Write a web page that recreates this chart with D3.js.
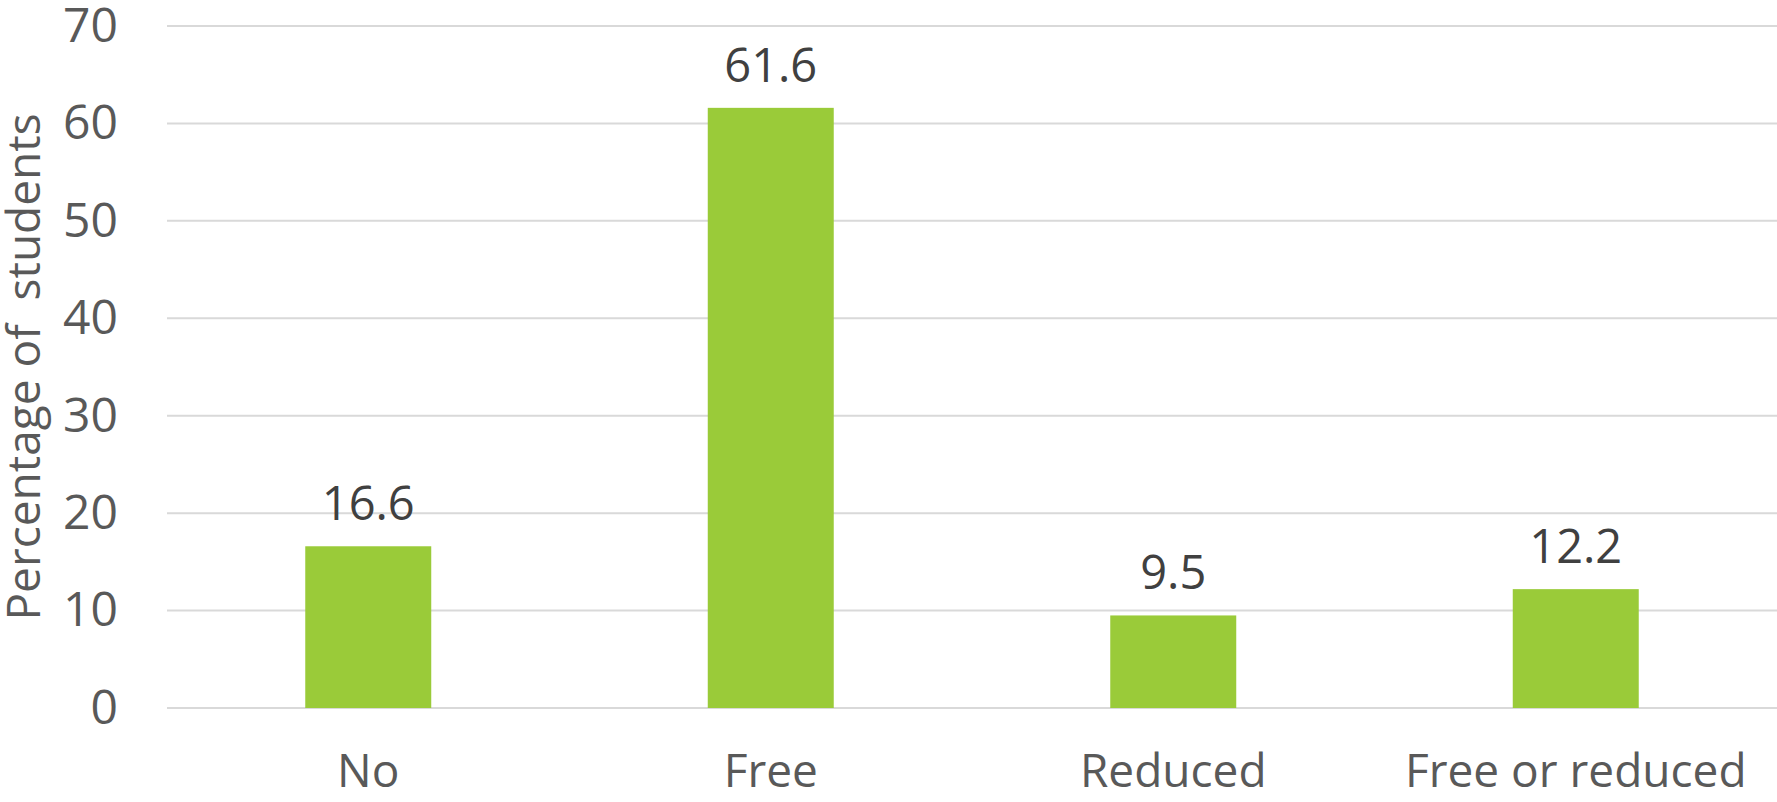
<!DOCTYPE html>
<html>
<head>
<meta charset="utf-8">
<script src="https://cdn.jsdelivr.net/npm/d3@7"></script>
<style>
  html, body { margin: 0; padding: 0; background: #ffffff; }
  svg { display: block; }
</style>
</head>
<body>
<svg id="chart" width="1777" height="802"></svg>
<script>
// Lunch status categories and the share of students in each
const categories = ["No", "Free", "Reduced", "Free or reduced"];
const values = [16.6, 61.6, 9.5, 12.2];
const yTicks = [0, 10, 20, 30, 40, 50, 60, 70];
const yTitle = "Percentage of\u00a0 students";

const W = 1777, H = 802;
const margin = { top: 26, right: 0, bottom: 94, left: 167 };
const font = "'Open Sans', sans-serif";

const svg = d3.select("#chart");

const x = d3.scaleBand()
  .domain(categories)
  .range([margin.left, W - margin.right])
  .paddingInner(0.687)
  .paddingOuter(0.3435);

const y = d3.scaleLinear()
  .domain([0, 70])
  .range([H - margin.bottom, margin.top]);

// horizontal gridlines
svg.append("g")
  .selectAll("line")
  .data(yTicks)
  .join("line")
  .attr("x1", margin.left)
  .attr("x2", W - margin.right)
  .attr("y1", d => y(d))
  .attr("y2", d => y(d))
  .attr("stroke", "#d9d9d9")
  .attr("stroke-width", 2);

// y tick labels
const yAxis = svg.append("g")
  .attr("transform", `translate(${margin.left},0)`)
  .call(d3.axisLeft(y).tickValues(yTicks).tickSize(0).tickPadding(49));
yAxis.select(".domain").remove();
yAxis.selectAll("text")
  .attr("font-family", font)
  .attr("font-size", 48)
  .attr("fill", "#595959");

// bars
svg.append("g")
  .selectAll("rect")
  .data(values)
  .join("rect")
  .attr("x", (d, i) => x(categories[i]))
  .attr("width", x.bandwidth())
  .attr("y", d => y(d))
  .attr("height", d => y(0) - y(d))
  .attr("fill", "#9acb39");

// value labels above bars
svg.append("g")
  .selectAll("text")
  .data(values)
  .join("text")
  .attr("x", (d, i) => x(categories[i]) + x.bandwidth() / 2)
  .attr("y", d => y(d) - 26)
  .attr("text-anchor", "middle")
  .attr("font-family", font)
  .attr("font-size", 47)
  .attr("fill", "#404040")
  .text(d => d.toFixed(1));

// category labels
const xAxis = svg.append("g")
  .attr("transform", `translate(0,${y(0)})`)
  .call(d3.axisBottom(x).tickSize(0).tickPadding(46));
xAxis.select(".domain").remove();
xAxis.selectAll("text")
  .attr("font-family", font)
  .attr("font-size", 46)
  .attr("fill", "#595959");

// y axis title
svg.append("text")
  .attr("transform", `translate(40,${y(35)}) rotate(-90)`)
  .attr("text-anchor", "middle")
  .attr("font-family", font)
  .attr("font-size", 46)
  .attr("fill", "#595959")
  .text(yTitle);
</script>
</body>
</html>
